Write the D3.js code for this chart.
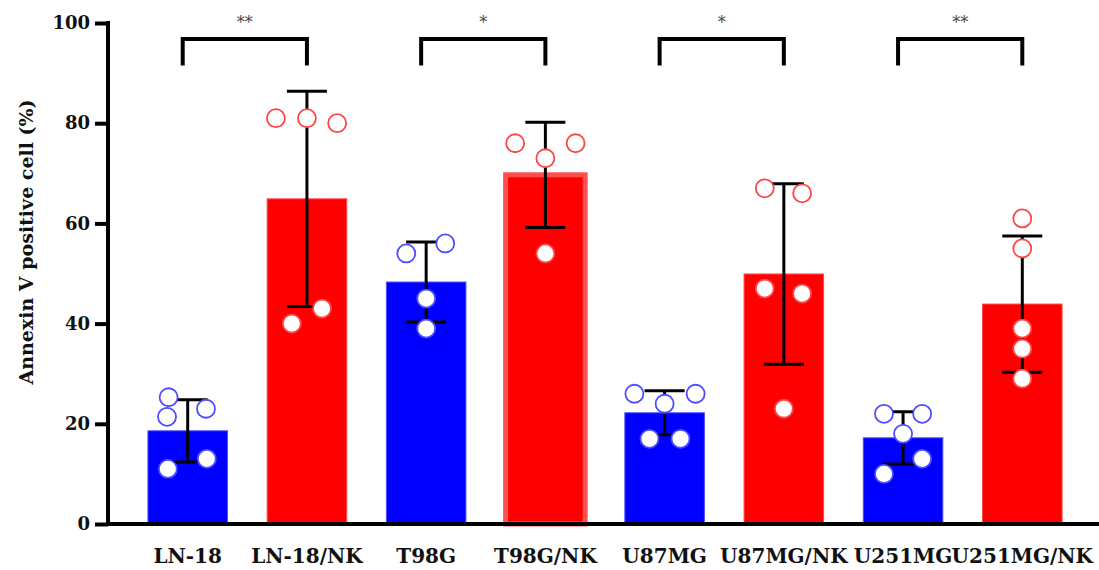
<!DOCTYPE html>
<html>
<head>
<meta charset="utf-8">
<script src="https://cdn.jsdelivr.net/npm/d3@7"></script>
<style>
  body { margin: 0; background: #fff; }
  text { font-family: "DejaVu Serif", serif; }
</style>
</head>
<body>
<div id="chart"></div>
<script>
// cell lines, alone and co-cultured with NK cells
const categories = ["LN-18", "LN-18/NK", "T98G", "T98G/NK", "U87MG", "U87MG/NK", "U251MG", "U251MG/NK"];
const means = [18.6, 64.9, 48.3, 69.7, 22.2, 49.9, 17.2, 43.9];
const sds = [6.2, 21.5, 8.0, 10.5, 4.4, 18.0, 5.2, 13.6];
const points = [
  [25.3, 21.4, 23, 11, 13],
  [81, 81, 80, 40, 43],
  [54, 56, 45, 39],
  [76, 76, 73, 54],
  [26, 26, 24, 17, 17],
  [67, 66, 47, 46, 23],
  [22, 22, 18, 10, 13],
  [61, 55, 39, 35, 29]
];
// horizontal spread of the replicate dots, as a share of bar width
const jitter = [
  [-0.24, -0.26, 0.23, -0.25, 0.24],
  [-0.39, 0, 0.38, -0.19, 0.19],
  [-0.25, 0.24, 0, 0],
  [-0.38, 0.38, 0, 0],
  [-0.38, 0.39, 0, -0.19, 0.2],
  [-0.24, 0.23, -0.24, 0.23, 0],
  [-0.24, 0.24, 0, -0.24, 0.24],
  [0, 0, 0, 0, 0]
];
const yTicks = [0, 20, 40, 60, 80, 100];
const comparisons = [
  { a: "LN-18", b: "LN-18/NK", label: "**" },
  { a: "T98G", b: "T98G/NK", label: "*" },
  { a: "U87MG", b: "U87MG/NK", label: "*" },
  { a: "U251MG", b: "U251MG/NK", label: "**" }
];

var width = 1099, height = 570;
var fill = (i) => (i % 2 ? "#ff0000" : "#0000ff");
var ring = (i) => (i % 2 ? "#ff4545" : "#4d4dff");

var svg = d3.select("#chart").append("svg")
  .attr("width", width)
  .attr("height", height);

var y = d3.scaleLinear().domain([0, 100]).range([524, 23]);
var x = d3.scaleBand()
  .domain(categories)
  .range([108, 1102])
  .paddingInner(0.333)
  .paddingOuter(0.335);
var bw = x.bandwidth();
var cx = (c) => x(c) + bw / 2;

// bars
svg.append("g")
  .selectAll("rect")
  .data(categories)
  .enter()
  .append("rect")
  .attr("x", (d) => x(d))
  .attr("width", bw)
  .attr("y", (d, i) => y(means[i]))
  .attr("height", (d, i) => y(0) - y(means[i]))
  .attr("fill", (d, i) => fill(i))
  .attr("stroke", (d, i) => (d === "T98G/NK" ? "#ff5050" : ring(i)))
  .attr("stroke-width", (d) => (d === "T98G/NK" ? 5 : 1));

// error bars (mean ± SD)
var eb = svg.append("g").attr("stroke", "#000").attr("stroke-width", 3);
categories.forEach((c, i) => {
  var top = y(means[i] + sds[i]), bot = y(means[i] - sds[i]);
  eb.append("line").attr("x1", cx(c)).attr("x2", cx(c)).attr("y1", top).attr("y2", bot);
  eb.append("line").attr("x1", cx(c) - 20).attr("x2", cx(c) + 20).attr("y1", top).attr("y2", top);
  eb.append("line").attr("x1", cx(c) - 20).attr("x2", cx(c) + 20).attr("y1", bot).attr("y2", bot);
});

// replicate dots
categories.forEach((c, i) => {
  svg.append("g")
    .selectAll("circle")
    .data(points[i])
    .enter()
    .append("circle")
    .attr("cx", (d, j) => cx(c) + jitter[i][j] * bw)
    .attr("cy", (d) => y(d))
    .attr("r", 9)
    .attr("fill", "#fff")
    .attr("stroke", ring(i))
    .attr("stroke-width", 1.8);
});

// y axis
var yAxis = svg.append("g")
  .attr("transform", "translate(108,0)")
  .call(d3.axisLeft(y).tickValues(yTicks).tickSize(13).tickSizeOuter(0).tickPadding(5));
yAxis.select(".domain").attr("stroke-width", 4).attr("d", `M0,${y(100) - 2}V${y(0) + 2}`);
yAxis.selectAll(".tick line").attr("stroke-width", 4);
yAxis.selectAll(".tick text")
  .attr("font-family", "DejaVu Serif")
  .attr("font-weight", "bold")
  .attr("font-size", 18)
  .attr("fill", "#111");

// x axis
var xAxis = svg.append("g")
  .attr("transform", `translate(0,${y(0)})`)
  .call(d3.axisBottom(x).tickSize(0));
xAxis.select(".domain").attr("stroke-width", 4).attr("d", `M106,0H${width}`);
xAxis.selectAll(".tick text")
  .attr("y", 39)
  .attr("dy", 0)
  .attr("font-family", "DejaVu Serif")
  .attr("font-weight", "bold")
  .attr("font-size", 20)
  .attr("fill", "#111");

// y title
svg.append("text")
  .attr("transform", "translate(33,242) rotate(-90)")
  .attr("text-anchor", "middle")
  .attr("font-weight", "bold")
  .attr("font-size", 19)
  .attr("fill", "#111")
  .text("Annexin V positive cell (%)");

// significance brackets (left leg sits a little left of the first bar's centre)
var br = svg.append("g");
comparisons.forEach((s) => {
  var x1 = cx(s.a) - 5, x2 = cx(s.b);
  br.append("path")
    .attr("d", `M${x1},${y(91.5)}V${y(96.8)}H${x2}V${y(91.5)}`)
    .attr("fill", "none")
    .attr("stroke", "#000")
    .attr("stroke-width", 4);
  br.append("text")
    .attr("x", (x1 + x2) / 2)
    .attr("y", y(96.8) - 11)
    .attr("text-anchor", "middle")
    .attr("font-family", "Liberation Serif")
    .attr("font-size", 16)
    .attr("fill", "#444")
    .text(s.label);
});
</script>
</body>
</html>
